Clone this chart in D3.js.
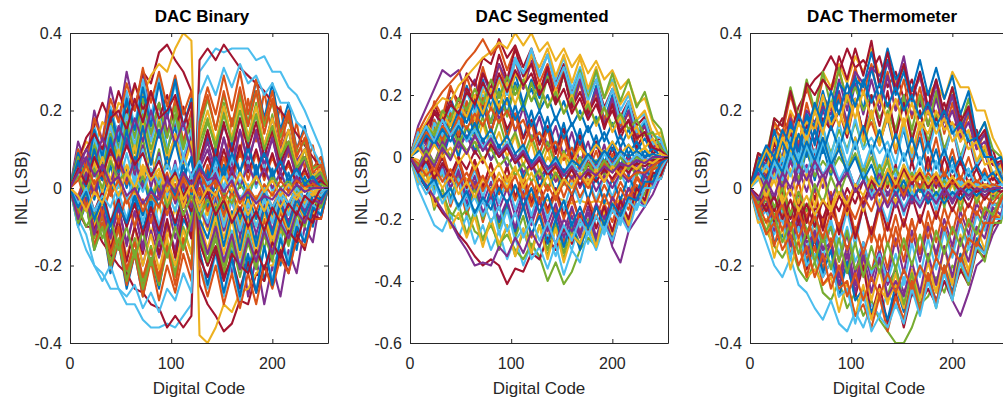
<!DOCTYPE html>
<html><head><meta charset="utf-8">
<script src="https://cdn.jsdelivr.net/npm/d3@7/dist/d3.min.js"></script>
<style>
body{margin:0;background:#fff}
svg{display:block}
text{font-family:"Liberation Sans",Arial,Helvetica,sans-serif;fill:#262626}
</style>
</head><body>
<svg id="chart" width="1003" height="401"></svg>
<script>
// Digital codes at which each INL curve is sampled
const codes=[0,8,16,24,32,40,48,56,64,72,80,88,96,104,112,120,128,136,144,152,160,168,176,184,192,200,208,216,224,232,240,248,255];

const titles=["DAC Binary","DAC Segmented","DAC Thermometer"];
const xTicks=[0,100,200];
const yTicksA=[-0.4,-0.2,0,0.2,0.4];
const yTickLabelsA=["-0.4","-0.2","0","0.2","0.4"];
const yTicksB=[-0.6,-0.4,-0.2,0,0.2,0.4];
const yTickLabelsB=["-0.6","-0.4","-0.2","0","0.2","0.4"];
const xLabel="Digital Code";
const yLabel="INL (LSB)";

// INL curves (LSB), one row per Monte-Carlo run
const inlBinary=[
[0,.1,.02,.14,.06,.19,.1,.22,.13,.24,.14, .22,.1,.16,.02,.08,-.06,.02,-.12,-.04,-.18,-.08, -.22,-.12,-.24,-.13,-.2,-.08,-.16,-.04,-.1,0,0],
[0,-.09,-.03,-.15,-.07,-.2,-.1,-.24,-.13,-.26,-.15, -.23,-.1,-.17,-.03,-.1,.05,-.02,.12,.03,.18,.08, .23,.12,.25,.13,.21,.08,.17,.05,.11,.01,0],
[0,.04,-.04,.02,-.06,0,-.08,-.02,-.1,-.03,-.12, -.04,-.13,-.05,-.14,-.06,-.13,-.05,-.14,-.06,-.15,-.07, -.14,-.06,-.13,-.05,-.12,-.04,-.1,-.02,-.07,.01,0],
[0,.12,.06,.2,.12,.26,.17,.3,.2,.3,.18, .28,.14,.22,.06,.14,-.04,.04,-.14,-.06,-.22,-.12, -.28,-.18,-.3,-.2,-.28,-.16,-.22,-.1,-.14,-.02,0],
[0,.07,.01,.12,.04,.14,.05,.15,.04,.13,.02, .1,-.02,.06,-.05,.03,-.08,0,-.1,-.03,-.13,-.05, -.15,-.06,-.16,-.07,-.14,-.05,-.12,-.03,-.08,.01,0],
[0,-.08,-.12,-.2,-.22,-.26,-.26,-.3,-.3,-.34,-.36, -.36,-.35,-.36,-.33,-.3,.3,.33,.36,.35,.36,.36, .36,.33,.34,.3,.3,.26,.24,.2,.15,.1,0],
[0,.08,.03,.14,.08,.19,.14,.24,.2,.3,.27, .35,.37,.33,.3,.25,-.25,-.3,-.33,-.37,-.35,-.29, -.3,-.22,-.24,-.16,-.18,-.1,-.12,-.04,-.07,.01,0],
[0,-.1,-.04,-.16,-.09,-.22,-.14,-.26,-.17,-.28,-.18, -.26,-.14,-.2,-.08,-.12,.06,.13,.08,.2,.12,.24, .16,.28,.18,.27,.15,.22,.1,.16,.05,.08,0],
[0,.06,0,.11,.05,.16,.08,.19,.11,.21,.12, .22,.13,.23,.12,.2,-.14,-.2,-.1,-.22,-.12,-.21, -.1,-.19,-.08,-.16,-.06,-.13,-.04,-.09,-.01,-.05,0],
[0,.07,.12,.1,.17,.15,.22,.2,.26,.24,.29, .32,.3,.36,.4,.38,-.38,-.4,-.36,-.3,-.32,-.27, -.26,-.22,-.2,-.2,-.16,-.12,-.13,-.08,-.07,-.04,0],
[0,-.06,.01,-.1,-.03,-.13,-.05,-.15,-.06,-.15,-.05, -.13,-.02,-.1,0,-.06,.05,.1,.02,.13,.04,.15, .06,.15,.05,.13,.04,.11,.02,.08,0,.04,0],
[0,-.08,-.02,-.13,-.06,-.18,-.1,-.22,-.13,-.24,-.15, -.25,-.14,-.22,-.1,-.17,.12,.18,.1,.22,.12,.24, .13,.22,.1,.19,.07,.15,.04,.1,.02,.05,0],
[0,.1,.04,.16,.09,.21,.13,.25,.16,.28,.18, .29,.18,.27,.15,.23,-.2,-.26,-.17,-.28,-.19,-.29, -.18,-.27,-.15,-.24,-.12,-.19,-.08,-.14,-.04,-.07,0],
[0,-.06,-.1,-.1,-.14,-.17,-.2,-.22,-.26,-.27,-.3, -.31,-.36,-.33,-.36,-.33,.33,.36,.33,.37,.34,.31, .29,.27,.25,.22,.2,.17,.14,.11,.08,.05,0],
[0,.04,-.04,.05,-.03,.06,-.04,.05,-.05,.04,-.06, .03,-.05,.05,-.04,.04,-.03,.05,-.04,.06,-.03,.05, -.04,.06,-.03,.05,-.04,.04,-.03,.03,-.02,.02,0],
[0,-.09,-.04,-.15,-.09,-.21,-.14,-.25,-.17,-.28,-.19, -.29,-.2,-.27,-.17,-.24,.18,.26,.19,.29,.2,.3, .19,.28,.17,.25,.14,.2,.1,.15,.05,.08,0],
[0,.05,-.01,.08,.02,.11,.04,.13,.05,.15,.07, .15,.06,.14,.05,.12,-.05,-.11,-.04,-.13,-.06,-.15, -.07,-.15,-.06,-.13,-.05,-.1,-.03,-.07,-.01,-.03,0],
[0,-.06,0,-.11,-.04,-.15,-.08,-.18,-.1,-.2,-.11, -.18,-.09,-.16,-.06,-.13,.07,.14,.08,.16,.1,.18, .12,.19,.11,.18,.1,.15,.07,.1,.04,.04,0],
[0,.08,.02,.13,.07,.17,.1,.2,.13,.23,.14, .22,.13,.21,.11,.17,-.12,-.2,-.13,-.22,-.14,-.23, -.14,-.21,-.12,-.18,-.1,-.14,-.07,-.09,-.03,-.05,0],
[0,-.1,-.16,-.2,-.24,-.2,-.26,-.28,-.25,-.31,-.27, -.32,-.26,-.29,-.22,-.27,.24,.29,.24,.31,.26,.32, .27,.29,.24,.27,.22,.22,.17,.15,.1,.06,0],
[0,.07,.13,.16,.22,.17,.25,.19,.27,.2,.25, .18,.24,.16,.21,.13,-.14,-.2,-.15,-.23,-.18,-.26, -.19,-.27,-.2,-.25,-.16,-.22,-.12,-.16,-.07,-.08,0],
[0,-.06,.01,-.09,-.02,-.12,-.04,-.1,-.02,-.11,-.03, -.12,-.02,-.1,0,-.07,.07,.01,.1,.03,.12,.04, .12,.03,.11,.02,.09,.01,.07,0,.04,0,0],
[0,.1,.05,.18,.12,.23,.17,.27,.2,.31,.22, .3,.21,.29,.19,.25,-.2,-.28,-.2,-.3,-.22,-.31, -.22,-.3,-.2,-.26,-.18,-.22,-.13,-.15,-.08,-.08,0],
[0,-.06,-.01,-.1,-.04,-.15,-.08,-.18,-.1,-.2,-.12, -.21,-.13,-.2,-.11,-.17,.13,.2,.12,.21,.13,.22, .13,.21,.11,.18,.09,.15,.06,.1,.03,.05,0],
[0,.05,-.01,.09,.02,.12,.03,.13,.03,.11,0, .09,-.02,.07,-.04,.04,-.05,-.1,-.02,-.11,-.03,-.12, -.04,-.12,-.04,-.11,-.03,-.09,-.02,-.06,-.01,-.03,0],
[0,-.09,-.04,-.16,-.1,-.2,-.13,-.24,-.16,-.26,-.18, -.25,-.16,-.23,-.14,-.2,.15,.23,.15,.24,.16,.25, .17,.25,.16,.22,.13,.18,.09,.12,.05,.06,0],
[0,.08,.03,.13,.07,.16,.09,.19,.11,.2,.12, .19,.1,.18,.08,.15,-.09,-.17,-.1,-.19,-.11,-.2, -.11,-.19,-.1,-.17,-.08,-.13,-.05,-.09,-.03,-.04,0],
[0,-.07,-.01,-.11,-.05,-.16,-.08,-.19,-.1,-.17,-.07, -.17,-.08,-.18,-.06,-.13,.07,.15,.07,.17,.09,.18, .1,.17,.08,.15,.06,.12,.04,.08,.02,.03,0],
[0,.09,.03,.15,.08,.2,.12,.23,.15,.26,.16, .27,.18,.28,.16,.23,-.16,-.25,-.16,-.27,-.18,-.28, -.17,-.27,-.15,-.25,-.13,-.2,-.1,-.14,-.05,-.07,0],
[0,-.07,-.01,-.12,-.06,-.17,-.1,-.21,-.14,-.23,-.16, -.24,-.15,-.25,-.13,-.21,.17,.24,.15,.25,.16,.26, .16,.25,.14,.23,.11,.19,.08,.13,.04,.06,0],
[0,.06,0,.09,.03,.1,.04,.15,.07,.17,.08, .18,.08,.13,.05,.12,-.08,-.16,-.07,-.17,-.08,-.18, -.08,-.17,-.06,-.15,-.05,-.11,-.03,-.08,-.01,-.03,0],
[0,-.08,-.02,-.12,-.05,-.13,-.05,-.14,-.06,-.16,-.07, -.15,-.04,-.13,-.03,-.11,.06,.12,.04,.13,.06,.15, .07,.14,.06,.13,.04,.1,.03,.08,.01,.03,0],
[0,.08,.02,.11,.05,.14,.07,.17,.09,.19,.1, .17,.09,.19,.1,.18,-.11,-.19,-.11,-.2,-.12,-.21, -.12,-.2,-.11,-.19,-.09,-.15,-.06,-.1,-.03,-.05,0],
[0,-.04,.02,-.07,0,-.09,-.01,-.08,.01,-.09,0, -.1,-.01,-.06,.02,-.05,.04,-.02,.07,0,.08,.01, .07,0,.06,-.01,.04,0,.04,-.01,.03,0,0],
[0,.06,.1,.14,.1,.18,.2,.15,.23,.17,.25, .18,.2,.24,.16,.22,-.18,-.23,-.16,-.24,-.17,-.2, -.22,-.16,-.21,-.14,-.18,-.11,-.14,-.07,-.09,-.02,0],
[0,-.05,.03,-.03,.05,-.02,.07,0,.08,.01,.09, 0,.08,-.01,.06,-.02,.03,-.05,.01,-.07,-.01,-.08, -.02,-.08,-.01,-.07,0,-.05,.01,-.03,.02,-.01,0],
[0,.03,-.05,.02,-.07,0,-.09,-.02,-.1,-.03,-.09, -.01,-.07,.01,-.05,.03,-.02,.06,0,.08,.01,.1, .02,.09,.02,.08,.02,.06,.01,.04,.01,.02,0],
[0,-.03,.05,0,.08,.02,.1,.03,.11,.03,.09, .01,.07,-.01,.04,-.04,.02,-.07,-.01,-.09,-.02,-.1, -.03,-.1,-.03,-.08,-.02,-.06,-.01,-.04,0,-.02,0],
[0,.05,.1,.06,.13,.08,.16,.11,.18,.12,.2, .13,.19,.11,.17,.09,-.1,-.17,-.1,-.19,-.12,-.21, -.13,-.19,-.11,-.17,-.09,-.13,-.06,-.09,-.03,-.04,0],
[0,-.05,-.1,-.06,-.13,-.08,-.16,-.1,-.18,-.11,-.2, -.12,-.18,-.1,-.16,-.08,.1,.17,.11,.19,.12,.2, .12,.19,.1,.16,.08,.12,.05,.08,.02,.04,0],
[0,.04,-.02,.06,-.01,.08,0,.09,.01,.1,.02, .08,0,.06,-.02,.03,-.04,-.09,-.01,-.1,-.03,-.11, -.04,-.1,-.03,-.09,-.02,-.07,-.01,-.05,0,-.02,0],
[0,-.04,.01,-.06,-.01,-.09,-.03,-.1,-.04,-.12,-.05, -.11,-.03,-.09,-.02,-.06,.03,.08,.02,.1,.03,.11, .04,.1,.03,.09,.02,.07,.01,.05,0,.02,0],
[0,.07,0,.1,.02,.13,.04,.15,.05,.16,.06, .15,.05,.12,.03,.08,-.08,-.13,-.05,-.15,-.06,-.16, -.06,-.15,-.05,-.12,-.04,-.1,-.03,-.07,-.02,-.03,0],
[0,-.02,.04,-.01,.06,0,.07,.01,.07,0,.05, -.01,.04,-.03,.02,-.04,0,-.06,-.01,-.07,-.01,-.06, 0,-.06,0,-.05,0,-.04,0,-.03,0,-.01,0],
[0,.05,-.02,.07,-.01,.08,0,.06,-.02,.05,-.03, .04,-.04,.03,-.05,.01,-.06,0,-.07,-.01,-.08,-.02, -.07,-.02,-.06,-.01,-.05,-.01,-.03,0,-.02,0,0],
[0,-.03,.04,-.02,.06,.01,.08,.02,.07,0,.05, -.02,.03,-.04,.01,-.05,.02,-.03,.04,-.02,.05,0, .06,.01,.05,0,.04,-.01,.03,0,.02,0,0],
[0,.03,-.02,.05,0,.07,.02,.04,-.01,.03,-.03, .02,-.05,0,-.07,-.02,-.08,-.03,-.06,-.01,-.04,.01, -.02,.03,-.01,.03,0,.02,-.01,.02,0,.01,0],
[0,-.04,0,-.06,-.02,-.05,.01,-.03,.03,-.01,.05, .01,.06,.02,.08,.03,.07,.01,.05,-.01,.03,-.03, .01,-.04,0,-.05,-.01,-.04,0,-.03,0,-.01,0],
[0,.05,.01,.08,.03,.1,.05,.11,.06,.09,.03, .07,.01,.04,-.02,.02,-.04,-.01,-.07,-.03,-.09,-.05, -.1,-.06,-.11,-.05,-.09,-.04,-.07,-.02,-.04,0,0],
[0,-.05,-.01,-.08,-.03,-.1,-.04,-.09,-.02,-.07,0, -.05,.02,-.02,.04,0,.06,.02,.08,.03,.09,.04, .1,.04,.09,.03,.07,.02,.05,.01,.03,0,0],
[0,.02,.06,.01,.04,-.02,.02,-.04,0,-.06,-.02, -.05,.01,-.03,.03,-.01,.04,0,.02,-.03,.01,-.04, 0,-.03,.01,-.02,.02,-.01,.02,0,.01,0,0],
[0,-.02,-.06,-.01,-.04,.02,-.02,.04,0,.06,.02, .05,-.01,.03,-.03,.01,-.04,0,-.02,.03,-.01,.04, 0,.03,-.01,.02,-.02,.01,-.02,0,-.01,0,0],
[0,.04,.08,.03,.06,.01,.03,-.02,0,-.04,-.01, -.03,.02,-.01,.04,.01,.05,.02,.03,-.01,.02,-.03, -.01,-.04,-.02,-.03,0,-.02,.01,-.01,0,0,0]
];

const inlSegmented=[
[0,.09,.04,.12,.07,.19,.12,.23,.15,.25,.16, .26,.17,.27,.17,.22,.15,.2,.12,.18,.1,.15, .08,.13,.05,.11,.03,.09,.02,.06,.01,.03,0],
[0,-.08,-.02,-.11,-.05,-.16,-.08,-.19,-.1,-.21,-.12, -.23,-.14,-.25,-.15,-.26,-.17,-.27,-.16,-.28,-.17,-.24, -.18,-.23,-.15,-.21,-.13,-.17,-.09,-.12,-.05,-.06,0],
[0,-.01,-.03,-.02,-.05,-.04,-.06,-.07,-.08,-.09,-.1, -.11,-.11,-.12,-.13,-.12,-.13,-.14,-.13,-.14,-.15,-.14, -.15,-.14,-.15,-.15,-.14,-.13,-.11,-.09,-.06,-.03,0],
[0,.1,.16,.22,.28,.26,.28,.2,.25,.15,.22, .12,.19,.08,.16,.05,.13,.03,.1,0,.08,-.02, .05,-.04,.04,-.05,.03,-.06,.01,-.05,0,-.02,0],
[0,-.09,-.05,-.17,-.1,-.2,-.15,-.25,-.17,-.27,-.2, -.3,-.22,-.32,-.24,-.31,-.22,-.3,-.21,-.31,-.22,-.28, -.2,-.27,-.18,-.25,-.15,-.21,-.1,-.14,-.06,-.06,0],
[0,-.1,-.16,-.22,-.24,-.18,-.26,-.19,-.28,-.22,-.3, -.24,-.33,-.26,-.35,-.28,-.33,-.25,-.32,-.24,-.3,-.21, -.28,-.19,-.25,-.16,-.22,-.13,-.17,-.09,-.1,-.04,0],
[0,.09,.05,.17,.11,.22,.18,.27,.23,.32,.3, .38,.32,.36,.29,.35,.27,.33,.24,.3,.21,.27, .19,.25,.16,.22,.13,.18,.1,.13,.05,.06,0],
[0,.06,0,.1,.03,.13,.05,.16,.07,.17,.08, .18,.07,.17,.06,.15,.04,.13,.02,.11,0,.09, -.01,.07,-.02,.05,-.03,.04,-.02,.02,-.01,.01,0],
[0,.09,.04,.18,.13,.23,.16,.26,.18,.29,.2, .3,.21,.31,.22,.31,.2,.28,.18,.27,.15,.24, .13,.21,.11,.19,.08,.15,.05,.1,.02,.04,0],
[0,.07,.11,.16,.19,.18,.23,.26,.29,.32,.34, .37,.35,.4,.36,.4,.34,.37,.31,.35,.29,.33, .27,.31,.25,.28,.22,.25,.17,.19,.11,.06,0],
[0,-.05,.01,-.08,-.02,-.1,-.04,-.13,-.06,-.15,-.08, -.17,-.1,-.19,-.11,-.2,-.13,-.22,-.15,-.24,-.16,-.25, -.18,-.27,-.2,-.29,-.34,-.24,-.2,-.16,-.12,-.06,0],
[0,-.05,-.1,-.14,-.12,-.18,-.2,-.17,-.24,-.26,-.22, -.28,-.25,-.3,-.33,-.28,-.32,-.4,-.34,-.41,-.37,-.3, -.26,-.29,-.22,-.25,-.18,-.2,-.14,-.12,-.08,-.04,0],
[0,-.06,0,-.08,-.02,-.1,-.02,-.11,-.04,-.13,-.05, -.15,-.07,-.17,-.09,-.19,-.1,-.2,-.11,-.17,-.08,-.15, -.07,-.14,-.06,-.13,-.05,-.11,-.04,-.08,-.02,-.04,0],
[0,-.06,-.1,-.14,-.18,-.21,-.25,-.28,-.32,-.35,-.33, -.35,-.41,-.36,-.37,-.31,-.33,-.26,-.3,-.23,-.28,-.19, -.24,-.16,-.21,-.13,-.18,-.1,-.13,-.06,-.08,-.02,0],
[0,.07,.01,.09,.04,.12,.05,.14,.08,.19,.11, .22,.14,.24,.17,.25,.19,.27,.18,.27,.16,.25, .14,.23,.12,.2,.1,.17,.07,.11,.04,.05,0],
[0,.08,.13,.17,.21,.24,.27,.31,.34,.38,.33, .36,.28,.35,.26,.33,.24,.3,.21,.28,.18,.25, .15,.21,.12,.18,.1,.14,.07,.1,.04,.04,0],
[0,.05,-.01,.08,.01,.09,.01,.1,.02,.11,.02, .08,0,.07,-.03,.05,-.05,.03,-.07,.01,-.08,-.01, -.08,-.02,-.08,-.02,-.07,-.01,-.05,-.01,-.03,0,0],
[0,.08,.04,.15,.09,.18,.13,.22,.16,.27,.2, .3,.24,.32,.22,.31,.2,.29,.18,.27,.16,.25, .13,.22,.1,.19,.08,.15,.06,.1,.03,.05,0],
[0,-.08,-.02,-.1,-.05,-.13,-.06,-.17,-.1,-.2,-.14, -.23,-.16,-.26,-.19,-.3,-.22,-.32,-.23,-.33,-.24,-.29, -.22,-.28,-.2,-.26,-.17,-.22,-.13,-.15,-.07,-.07,0],
[0,.06,.02,.12,.06,.15,.08,.18,.12,.2,.15, .25,.2,.31,.26,.34,.27,.33,.25,.32,.22,.29, .21,.27,.19,.25,.15,.2,.12,.14,.07,.06,0],
[0,.07,.02,.1,.05,.14,.06,.16,.09,.18,.08, .17,.09,.14,.06,.12,.04,.1,.01,.09,-.01,.07, -.03,.05,-.04,.03,-.05,.01,-.05,0,-.03,0,0],
[0,-.06,-.01,-.09,-.03,-.14,-.07,-.17,-.08,-.19,-.1, -.21,-.15,-.24,-.16,-.25,-.19,-.28,-.2,-.29,-.21,-.3, -.21,-.28,-.18,-.27,-.16,-.22,-.12,-.15,-.07,-.06,0],
[0,-.05,.02,-.06,.02,-.07,0,-.09,-.01,-.1,-.02, -.12,-.03,-.13,-.05,-.14,-.06,-.11,-.05,-.13,-.06,-.13, -.08,-.15,-.09,-.14,-.08,-.13,-.06,-.1,-.03,-.04,0],
[0,.08,.01,.11,.04,.14,.1,.16,.12,.22,.15, .25,.17,.27,.23,.33,.29,.35,.26,.33,.24,.32, .22,.29,.19,.24,.17,.21,.12,.15,.07,.08,0],
[0,-.06,-.01,-.08,-.03,-.1,-.05,-.15,-.08,-.18,-.13, -.2,-.14,-.23,-.12,-.22,-.14,-.24,-.18,-.26,-.19,-.26, -.16,-.26,-.17,-.28,-.18,-.23,-.13,-.16,-.08,-.07,0],
[0,.05,0,.08,.04,.14,.07,.17,.09,.19,.11, .21,.13,.23,.15,.24,.16,.26,.17,.27,.18,.28, .19,.28,.19,.27,.18,.25,.16,.21,.12,.09,0],
[0,-.09,-.02,-.12,-.04,-.15,-.07,-.17,-.13,-.19,-.14, -.25,-.17,-.27,-.23,-.33,-.29,-.36,-.28,-.38,-.3,-.34, -.24,-.3,-.22,-.27,-.19,-.24,-.15,-.16,-.08,-.07,0],
[0,.08,.05,.15,.12,.18,.1,.22,.18,.27,.22, .33,.25,.35,.26,.3,.21,.29,.18,.27,.16,.21, .14,.19,.09,.17,.06,.12,.03,.08,.01,.03,0],
[0,.05,-.02,.06,-.01,.08,0,.1,.02,.06,-.01, .04,-.03,.01,-.07,-.01,-.1,-.03,-.12,-.04,-.13,-.05, -.14,-.06,-.15,-.07,-.14,-.06,-.12,-.04,-.07,-.01,0],
[0,.07,.02,.12,.05,.14,.07,.18,.1,.19,.08, .16,.06,.14,.03,.11,.01,.09,-.02,.07,-.03,.05, -.05,.02,-.06,.01,-.07,0,-.06,0,-.04,0,0],
[0,-.08,-.04,-.16,-.12,-.23,-.18,-.26,-.19,-.29,-.2, -.28,-.22,-.32,-.23,-.31,-.22,-.33,-.23,-.34,-.25,-.28, -.21,-.29,-.17,-.25,-.15,-.22,-.11,-.15,-.07,-.06,0],
[0,-.05,-.09,-.13,-.17,-.21,-.26,-.3,-.35,-.34,-.35, -.29,-.32,-.26,-.31,-.24,-.29,-.22,-.28,-.2,-.24,-.18, -.22,-.15,-.2,-.13,-.17,-.1,-.14,-.06,-.09,-.02,0],
[0,.06,.01,.09,.03,.11,.04,.1,.06,.13,.04, .12,.03,.08,0,.07,-.01,.05,-.03,.02,-.04,0, -.05,-.01,-.06,-.02,-.07,-.02,-.06,-.01,-.04,0,0],
[0,.08,.01,.11,.07,.17,.11,.21,.14,.23,.2, .26,.22,.32,.27,.35,.26,.33,.23,.29,.2,.27, .18,.25,.15,.22,.11,.18,.08,.12,.04,.05,0],
[0,-.05,.01,-.06,0,-.08,-.01,-.1,-.01,-.1,-.02, -.11,-.03,-.13,-.07,-.15,-.09,-.17,-.1,-.19,-.12,-.21, -.14,-.23,-.16,-.24,-.14,-.2,-.1,-.14,-.05,-.06,0],
[0,.04,.09,.06,.12,.08,.15,.11,.18,.13,.2, .14,.19,.12,.17,.1,.15,.08,.13,.06,.11,.04, .1,.03,.08,.02,.07,.01,.05,0,.03,0,0],
[0,-.04,.02,-.05,.01,-.07,-.01,-.09,-.03,-.11,-.05, -.12,-.06,-.14,-.08,-.16,-.1,-.18,-.12,-.2,-.13,-.21, -.13,-.2,-.12,-.18,-.1,-.15,-.07,-.1,-.04,-.03,0],
[0,.06,.11,.07,.14,.1,.17,.13,.2,.14,.22, .16,.24,.17,.25,.18,.24,.16,.22,.14,.2,.12, .18,.1,.16,.08,.13,.06,.1,.03,.06,.01,0],
[0,-.03,.03,-.02,.05,0,.06,.01,.07,.02,.06, 0,.04,-.02,.02,-.04,0,-.06,-.02,-.08,-.04,-.1, -.05,-.11,-.06,-.1,-.05,-.08,-.04,-.06,-.02,-.02,0],
[0,.05,.1,.07,.15,.12,.19,.15,.22,.17,.25, .19,.26,.2,.25,.18,.23,.16,.21,.14,.19,.12, .17,.11,.16,.1,.14,.09,.12,.07,.08,.03,0],
[0,-.07,-.12,-.08,-.15,-.1,-.17,-.12,-.19,-.14,-.21, -.16,-.24,-.18,-.26,-.2,-.27,-.21,-.28,-.22,-.27,-.2, -.25,-.19,-.24,-.17,-.21,-.14,-.17,-.1,-.1,-.04,0],
[0,.05,.1,.14,.11,.17,.14,.21,.17,.24,.19, .27,.21,.28,.23,.27,.2,.25,.17,.22,.14,.19, .12,.17,.1,.15,.08,.12,.06,.08,.03,.02,0],
[0,-.05,-.1,-.07,-.13,-.1,-.16,-.11,-.18,-.13,-.17, -.1,-.15,-.09,-.16,-.1,-.18,-.12,-.2,-.14,-.22,-.16, -.23,-.16,-.22,-.15,-.19,-.13,-.14,-.08,-.08,-.02,0],
[0,.03,.08,.05,.1,.07,.13,.09,.14,.1,.16, .11,.15,.09,.12,.05,.08,.02,.05,-.01,.03,-.04, 0,-.06,-.02,-.08,-.04,-.07,-.05,-.05,-.03,-.01,0],
[0,-.04,-.08,-.05,-.1,-.06,-.12,-.08,-.13,-.07,-.11, -.05,-.1,-.04,-.08,-.02,-.06,0,-.04,.01,-.02,.03, 0,.04,.01,.05,.01,.04,.01,.03,0,.01,0],
[0,.04,0,.06,.02,.08,.03,.07,.01,.05,-.01, .03,-.03,.01,-.05,-.02,-.07,-.03,-.08,-.04,-.07,-.03, -.06,-.02,-.05,-.01,-.04,0,-.03,0,-.02,0,0],
[0,-.03,.02,-.02,.04,0,.06,.02,.05,-.01,.03, -.03,0,-.06,-.02,-.08,-.04,-.1,-.05,-.09,-.03,-.07, -.02,-.06,-.01,-.05,0,-.04,0,-.02,0,-.01,0],
[0,.05,.1,.05,.12,.07,.11,.05,.09,.03,.07, .01,.05,-.01,.03,-.03,.01,-.05,-.01,-.06,-.02,-.05, 0,-.04,.01,-.03,.01,-.02,.01,-.01,0,0,0],
[0,-.05,-.01,-.07,-.02,-.06,0,-.04,.02,-.02,.04, 0,.03,-.02,.01,-.04,-.01,-.06,-.03,-.08,-.04,-.09, -.05,-.08,-.04,-.07,-.03,-.05,-.02,-.03,-.01,-.01,0],
[0,.02,.07,.04,.09,.05,.1,.06,.11,.05,.09, .03,.07,.01,.04,-.02,.02,-.04,0,-.05,-.01,-.03, .01,-.02,.02,-.01,.02,0,.02,0,.01,0,0],
[0,-.02,-.06,-.03,-.08,-.04,-.09,-.05,-.1,-.06,-.12, -.07,-.11,-.06,-.13,-.08,-.15,-.09,-.14,-.08,-.12,-.06, -.1,-.05,-.08,-.03,-.06,-.02,-.04,-.01,-.02,0,0],
[0,.03,-.01,.04,0,.03,-.02,.02,-.04,0,-.06, -.02,-.08,-.03,-.1,-.05,-.11,-.06,-.12,-.07,-.1,-.05, -.09,-.04,-.08,-.03,-.06,-.02,-.04,-.01,-.02,0,0],
[0,-.04,.01,-.03,.03,-.01,.05,.01,.07,.02,.06, .01,.04,-.01,.02,-.03,0,-.04,-.02,-.06,-.03,-.07, -.04,-.06,-.03,-.05,-.02,-.03,-.01,-.02,0,0,0]
];

const inlThermometer=[
[0,.07,.04,.1,.07,.16,.11,.19,.15,.22,.16, .23,.17,.23,.14,.2,.12,.18,.09,.15,.06,.13, .04,.1,.02,.08,0,.05,-.01,.04,-.01,.02,0],
[0,-.08,-.02,-.11,-.06,-.14,-.07,-.19,-.11,-.21,-.13, -.23,-.16,-.25,-.14,-.22,-.12,-.21,-.1,-.19,-.08,-.17, -.06,-.14,-.05,-.12,-.03,-.1,-.02,-.07,-.01,-.03,0],
[0,.08,.07,.17,.1,.2,.16,.27,.19,.3,.26, .32,.27,.34,.3,.36,.29,.33,.27,.31,.25,.28, .24,.27,.23,.3,.26,.26,.2,.2,.13,.09,0],
[0,-.05,-.01,-.08,-.03,-.1,-.04,-.12,-.07,-.16,-.1, -.19,-.12,-.22,-.14,-.24,-.16,-.25,-.21,-.27,-.22,-.28, -.23,-.29,-.24,-.29,-.33,-.27,-.2,-.18,-.12,-.08,0],
[0,-.07,-.11,-.15,-.18,-.14,-.21,-.24,-.19,-.27,-.29, -.24,-.31,-.27,-.33,-.29,-.34,-.37,-.4,-.4,-.36,-.3, -.28,-.23,-.27,-.2,-.22,-.15,-.16,-.09,-.09,-.03,0],
[0,-.08,-.14,-.2,-.23,-.18,-.25,-.27,-.31,-.34,-.29, -.35,-.37,-.32,-.36,-.3,-.33,-.27,-.31,-.23,-.28,-.2, -.25,-.18,-.22,-.15,-.2,-.12,-.14,-.08,-.08,-.03,0],
[0,.06,.1,.14,.18,.14,.21,.25,.28,.3,.34, .3,.36,.31,.33,.3,.34,.26,.3,.23,.28,.21, .25,.18,.22,.15,.19,.12,.15,.08,.1,.03,0],
[0,.05,-.02,.06,0,.09,.01,.1,.02,.11,.03, .12,.03,.13,.04,.1,.01,.08,-.01,.06,-.02,.04, -.02,.03,-.03,.02,-.03,.01,-.02,.01,-.01,0,0],
[0,.08,.06,.17,.14,.24,.17,.26,.19,.28,.25, .3,.23,.31,.24,.32,.22,.3,.2,.28,.18,.26, .16,.24,.14,.22,.12,.19,.1,.14,.06,.06,0],
[0,-.07,0,-.08,-.04,-.12,-.05,-.16,-.09,-.19,-.15, -.21,-.16,-.27,-.19,-.29,-.21,-.3,-.22,-.31,-.23,-.27, -.22,-.27,-.2,-.25,-.17,-.21,-.14,-.16,-.08,-.07,0],
[0,.07,.03,.09,.04,.15,.08,.17,.12,.2,.15, .25,.17,.27,.19,.28,.2,.29,.2,.24,.19,.23, .16,.23,.15,.2,.13,.17,.1,.12,.06,.05,0],
[0,.06,.02,.1,.03,.11,.05,.13,.08,.15,.09, .15,.1,.17,.1,.19,.12,.2,.14,.23,.15,.24, .16,.25,.17,.26,.16,.23,.13,.17,.1,.08,0],
[0,-.06,-.02,-.12,-.05,-.14,-.07,-.16,-.08,-.18,-.09, -.14,-.06,-.15,-.04,-.13,-.03,-.09,0,-.07,.01,-.05, .01,-.06,.02,-.04,.02,-.02,.02,-.01,.01,0,0],
[0,-.08,-.04,-.1,-.08,-.15,-.09,-.21,-.13,-.23,-.19, -.25,-.2,-.28,-.2,-.33,-.25,-.35,-.27,-.36,-.27,-.3, -.26,-.3,-.24,-.28,-.21,-.25,-.16,-.18,-.1,-.08,0],
[0,.07,0,.09,.06,.13,.07,.19,.11,.21,.17, .23,.16,.29,.2,.31,.23,.33,.24,.3,.22,.3, .2,.28,.17,.24,.15,.2,.11,.14,.07,.06,0],
[0,-.05,.02,-.06,.02,-.07,.02,-.08,0,-.1,-.01, -.11,-.02,-.12,-.04,-.14,-.05,-.15,-.07,-.16,-.08,-.17, -.09,-.18,-.1,-.17,-.08,-.15,-.06,-.1,-.04,-.04,0],
[0,.08,.01,.1,.03,.12,.04,.14,.05,.16,.05, .11,.04,.13,.02,.11,.02,.09,-.01,.06,-.02,.03, -.02,.03,-.04,.01,-.04,.01,-.03,.01,-.02,0,0],
[0,-.07,-.02,-.09,-.03,-.15,-.07,-.17,-.11,-.19,-.14, -.25,-.17,-.27,-.18,-.22,-.16,-.23,-.13,-.22,-.11,-.19, -.1,-.17,-.08,-.15,-.06,-.12,-.04,-.08,-.02,-.03,0],
[0,.09,.08,.18,.16,.26,.18,.28,.2,.3,.21, .31,.22,.26,.2,.24,.18,.22,.15,.24,.13,.2, .12,.19,.1,.16,.08,.14,.06,.1,.03,.05,0],
[0,-.05,0,-.06,-.01,-.08,-.02,-.12,-.06,-.14,-.08, -.17,-.1,-.19,-.14,-.22,-.17,-.24,-.17,-.25,-.14,-.23, -.13,-.21,-.11,-.18,-.09,-.16,-.07,-.11,-.04,-.05,0],
[0,.06,.02,.12,.04,.14,.06,.16,.08,.18,.15, .2,.13,.23,.14,.24,.16,.25,.13,.22,.12,.2, .1,.18,.08,.16,.06,.13,.05,.09,.02,.05,0],
[0,-.07,-.05,-.14,-.12,-.18,-.1,-.2,-.12,-.22,-.16, -.28,-.19,-.29,-.26,-.32,-.28,-.34,-.25,-.32,-.24,-.32, -.22,-.3,-.2,-.27,-.17,-.24,-.13,-.17,-.08,-.08,0],
[0,.07,.05,.15,.13,.19,.11,.22,.14,.24,.2, .24,.15,.23,.13,.17,.11,.19,.09,.17,.07,.15, .05,.13,.03,.1,.02,.08,.01,.05,0,.03,0],
[0,-.09,-.08,-.18,-.1,-.21,-.13,-.23,-.21,-.25,-.23, -.32,-.24,-.33,-.25,-.34,-.26,-.29,-.25,-.31,-.21,-.29, -.19,-.27,-.15,-.25,-.12,-.22,-.1,-.16,-.06,-.08,0],
[0,.08,.06,.1,.08,.18,.1,.2,.17,.21,.19, .28,.2,.3,.27,.31,.29,.32,.26,.34,.23,.29, .19,.27,.17,.24,.14,.21,.11,.14,.06,.06,0],
[0,-.06,-.03,-.07,-.05,-.11,-.03,-.11,-.08,-.14,-.1, -.19,-.11,-.21,-.17,-.21,-.19,-.28,-.2,-.3,-.22,-.31, -.23,-.31,-.21,-.29,-.19,-.25,-.15,-.19,-.09,-.09,0],
[0,.06,.01,.07,.05,.13,.07,.15,.07,.16,.08, .17,.09,.18,.1,.13,.09,.12,.06,.16,.08,.17, .09,.17,.08,.16,.07,.14,.06,.09,.04,.05,0],
[0,-.07,.01,-.09,-.01,-.11,-.03,-.13,-.05,-.08,-.02, -.06,0,-.04,.02,-.02,.04,0,.06,-.02,.07,-.01, .08,0,.08,.02,.07,.01,.05,0,.03,0,0],
[0,.08,.05,.15,.07,.17,.09,.19,.16,.25,.17, .27,.24,.28,.26,.35,.27,.36,.28,.31,.25,.33, .24,.31,.23,.29,.19,.25,.13,.17,.07,.08,0],
[0,-.08,-.05,-.15,-.07,-.17,-.14,-.23,-.15,-.25,-.22, -.26,-.24,-.33,-.3,-.36,-.28,-.37,-.28,-.34,-.24,-.32, -.22,-.3,-.2,-.28,-.18,-.23,-.14,-.17,-.07,-.08,0],
[0,.06,.04,.13,.07,.15,.13,.17,.15,.24,.16, .2,.14,.23,.12,.2,.11,.19,.1,.18,.09,.17, .14,.2,.15,.17,.12,.15,.07,.11,.03,.06,0],
[0,-.06,-.02,-.11,-.03,-.13,-.1,-.14,-.12,-.16,-.14, -.23,-.15,-.25,-.17,-.27,-.18,-.28,-.24,-.28,-.19,-.27, -.17,-.25,-.15,-.23,-.13,-.19,-.1,-.13,-.05,-.07,0],
[0,.07,-.01,.08,0,.1,.02,.11,.03,.07,.04, .08,.05,.09,.03,.08,.02,.07,-.02,.06,-.03,.05, -.04,.04,-.05,.03,-.06,.02,-.04,.01,-.03,0,0],
[0,-.08,-.06,-.1,-.08,-.18,-.1,-.2,-.17,-.23,-.19, -.28,-.26,-.35,-.27,-.37,-.33,-.36,-.3,-.35,-.26,-.33, -.24,-.31,-.22,-.29,-.19,-.24,-.15,-.17,-.08,-.08,0],
[0,.09,.07,.18,.16,.25,.17,.27,.24,.28,.25, .34,.28,.36,.29,.38,.26,.35,.25,.32,.23,.3, .21,.28,.19,.26,.17,.21,.12,.15,.06,.07,0],
[0,.04,.09,.05,.12,.07,.14,.08,.15,.09,.16, .1,.17,.1,.16,.09,.15,.08,.14,.07,.13,.06, .12,.05,.1,.04,.08,.03,.06,.02,.04,.01,0],
[0,-.04,-.09,-.05,-.11,-.06,-.13,-.07,-.14,-.08,-.15, -.09,-.16,-.1,-.17,-.1,-.16,-.09,-.15,-.08,-.14,-.07, -.13,-.06,-.11,-.05,-.09,-.04,-.07,-.02,-.04,-.01,0],
[0,.05,.1,.06,.13,.09,.17,.12,.2,.14,.22, .16,.24,.18,.25,.18,.24,.17,.23,.16,.22,.15, .2,.14,.18,.12,.15,.1,.12,.06,.07,.02,0],
[0,-.05,.01,-.03,.04,-.02,.05,-.01,.06,0,.07, .01,.06,0,.05,-.01,.04,-.02,.03,-.03,.02,-.04, .01,-.04,0,-.04,0,-.03,0,-.02,0,-.01,0],
[0,-.05,-.11,-.07,-.14,-.09,-.17,-.11,-.19,-.12,-.21, -.13,-.22,-.14,-.23,-.15,-.22,-.14,-.21,-.13,-.2,-.12, -.19,-.11,-.17,-.1,-.15,-.08,-.12,-.05,-.07,-.02,0],
[0,.05,-.01,.07,.02,.09,.04,.11,.05,.12,.06, .13,.06,.12,.05,.11,.04,.1,.03,.09,.02,.08, .01,.07,0,.06,0,.05,0,.03,0,.01,0],
[0,-.04,.02,-.06,0,-.08,-.01,-.09,-.02,-.11,-.03, -.12,-.04,-.13,-.05,-.12,-.04,-.11,-.03,-.1,-.02,-.09, -.02,-.08,-.01,-.06,-.01,-.05,0,-.03,0,-.01,0],
[0,.06,.11,.08,.15,.11,.19,.14,.22,.16,.25, .19,.27,.21,.28,.22,.27,.21,.26,.2,.24,.18, .22,.16,.2,.14,.17,.12,.13,.08,.08,.03,0],
[0,-.06,-.12,-.09,-.16,-.12,-.2,-.15,-.23,-.17,-.26, -.2,-.28,-.22,-.29,-.23,-.28,-.22,-.27,-.21,-.26,-.2, -.24,-.18,-.22,-.16,-.19,-.13,-.15,-.09,-.09,-.03,0],
[0,.03,-.03,.04,-.03,.05,-.04,.04,-.05,.03,-.06, .02,-.07,.01,-.06,.02,-.05,.03,-.04,.04,-.03,.05, -.02,.04,-.02,.03,-.01,.02,-.01,.01,0,0,0],
[0,.04,-.01,.05,0,.07,.01,.06,-.01,.04,-.03, .02,-.04,.01,-.05,0,-.06,-.01,-.05,0,-.04,.01, -.03,.02,-.02,.02,-.01,.02,0,.01,0,0,0],
[0,-.04,.01,-.05,0,-.07,-.01,-.06,.01,-.04,.03, -.02,.04,-.01,.05,0,.06,.01,.05,0,.04,-.01, .03,-.02,.02,-.02,.01,-.02,0,-.01,0,0,0],
[0,.02,.06,.02,.08,.03,.09,.04,.1,.03,.08, .02,.06,0,.04,-.02,.02,-.04,0,-.05,-.01,-.04, 0,-.03,.01,-.02,.01,-.01,.01,0,0,0,0],
[0,-.02,-.06,-.02,-.08,-.03,-.09,-.04,-.1,-.03,-.08, -.02,-.06,0,-.04,.02,-.02,.04,0,.05,.01,.04, 0,.03,-.01,.02,-.01,.01,-.01,0,0,0,0],
[0,.05,.02,.08,.04,.11,.06,.12,.07,.13,.06, .1,.04,.08,.02,.06,0,.04,-.02,.02,-.03,0, -.04,-.01,-.04,-.01,-.03,0,-.02,0,-.01,0,0],
[0,-.05,-.02,-.08,-.04,-.11,-.06,-.12,-.07,-.13,-.06, -.1,-.04,-.08,-.02,-.06,0,-.04,.02,-.02,.03,0, .04,.01,.04,.01,.03,0,.02,0,.01,0,0],
[0,.03,-.02,.02,-.04,0,-.06,-.02,-.07,-.03,-.06, -.01,-.04,.01,-.02,.03,0,.05,.01,.06,.02,.05, .01,.04,0,.03,0,.02,0,.01,0,0,0],
[0,-.03,.02,-.02,.04,0,.06,.02,.07,.03,.06, .01,.04,-.01,.02,-.03,0,-.05,-.01,-.06,-.02,-.05, -.01,-.04,0,-.03,0,-.02,0,-.01,0,0,0]
];

// MATLAB default line colour order
const colorOrder=["#0072BD","#D95319","#EDB120","#7E2F8E","#77AC30","#4DBEEE","#A2142F"];

const svg=d3.select("#chart");
const W=258, topY=33, H=310;
const panels=[
  {data:inlBinary, left:70, ticks:yTicksA, labels:yTickLabelsA},
  {data:inlSegmented, left:410, ticks:yTicksB, labels:yTickLabelsB},
  {data:inlThermometer, left:750, ticks:yTicksA, labels:yTickLabelsA}
];
const axisColor="#262626";

panels.forEach((p,pi)=>{
  const x=d3.scaleLinear().domain([0,255]).range([0,W]);
  const y=d3.scaleLinear().domain(d3.extent(p.ticks)).range([H,0]);
  const g=svg.append("g").attr("transform",`translate(${p.left},${topY})`);
  g.append("clipPath").attr("id","clip"+pi).append("rect").attr("width",W).attr("height",H);
  const line=d3.line().x((d,i)=>x(codes[i])).y(d=>y(d));
  g.append("g").attr("clip-path",`url(#clip${pi})`)
    .selectAll("path").data(p.data).join("path")
    .attr("d",line).attr("fill","none")
    .attr("stroke",(d,i)=>colorOrder[i%colorOrder.length])
    .attr("stroke-width",2.1).attr("stroke-linejoin","round");

  const styleAxis=sel=>{sel.selectAll("path,line").attr("stroke",axisColor);sel.selectAll("text").remove();};
  g.append("g").attr("transform",`translate(0,${H})`)
    .call(d3.axisBottom(x).tickValues(xTicks).tickSize(-4).tickSizeOuter(0)).call(styleAxis);
  g.append("g").call(d3.axisTop(x).tickValues(xTicks).tickSize(-4).tickSizeOuter(0)).call(styleAxis);
  g.append("g").call(d3.axisLeft(y).tickValues(p.ticks).tickSize(-4).tickSizeOuter(0)).call(styleAxis);
  g.append("g").attr("transform",`translate(${W},0)`)
    .call(d3.axisRight(y).tickValues(p.ticks).tickSize(-4).tickSizeOuter(0)).call(styleAxis);

  g.selectAll(".xt").data(xTicks).join("text").attr("class","xt")
    .attr("x",d=>x(d)).attr("y",H+26).attr("text-anchor","middle")
    .attr("font-size",16).text(d=>d);
  g.selectAll(".yt").data(p.ticks).join("text").attr("class","yt")
    .attr("x",-8).attr("y",d=>y(d)).attr("dy","0.35em").attr("text-anchor","end")
    .attr("font-size",16).text((d,i)=>p.labels[i]);

  g.append("text").attr("x",W/2+3).attr("y",-11).attr("text-anchor","middle")
    .attr("font-size",17).attr("font-weight","bold").style("fill","#000").text(titles[pi]);
  g.append("text").attr("x",W/2).attr("y",H+51).attr("text-anchor","middle")
    .attr("font-size",17).text(xLabel);
  g.append("text").attr("transform",`translate(-43,${H/2})rotate(-90)`).attr("text-anchor","middle")
    .attr("font-size",17).text(yLabel);
});
</script>
</body></html>
